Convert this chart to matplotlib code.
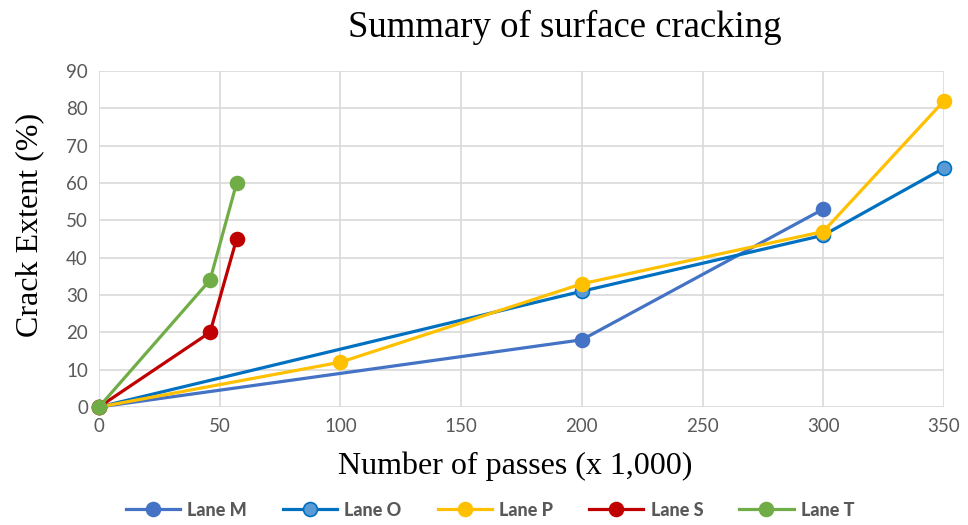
import matplotlib.pyplot as plt

# Data (passes in thousands, crack extent in %)
lane_m_x = [0, 200, 300]
lane_m_y = [0, 18, 53]
lane_o_x = [0, 200, 300, 350]
lane_o_y = [0, 31, 46, 64]
lane_p_x = [0, 100, 200, 300, 350]
lane_p_y = [0, 12, 33, 47, 82]
lane_s_x = [0, 46, 57]
lane_s_y = [0, 20, 45]
lane_t_x = [0, 46, 57]
lane_t_y = [0, 34, 60]

x_ticks = [0, 50, 100, 150, 200, 250, 300, 350]
y_ticks = [0, 10, 20, 30, 40, 50, 60, 70, 80, 90]

fig = plt.figure(figsize=(9.68, 5.25), dpi=100)
ax = fig.add_axes([99 / 968, 1 - 407 / 525, (944 - 99) / 968, (407 - 71) / 525])

series = [
    (lane_m_x, lane_m_y, 'Lane M', '#4472C4', '#4472C4'),
    (lane_o_x, lane_o_y, 'Lane O', '#0070C0', '#5B9BD5'),
    (lane_p_x, lane_p_y, 'Lane P', '#FFC000', '#FFC000'),
    (lane_s_x, lane_s_y, 'Lane S', '#C00000', '#C00000'),
    (lane_t_x, lane_t_y, 'Lane T', '#70AD47', '#70AD47'),
]
for xs, ys, label, color, face in series:
    ax.plot(xs, ys, color=color, linewidth=2.3, marker='o', markersize=10,
            markerfacecolor=face, markeredgecolor=color, markeredgewidth=1.2,
            label=label, clip_on=False, zorder=3)

ax.set_xlim(0, 350)
ax.set_ylim(0, 90)
ax.set_xticks(x_ticks)
ax.set_yticks(y_ticks)
ax.grid(True, color='#D9D9D9', linewidth=1.2)
ax.set_axisbelow(True)
for s in ax.spines.values():
    s.set_visible(False)
ax.tick_params(length=0, labelsize=13.5, labelcolor='#595959', pad=8)
for lbl in ax.get_xticklabels() + ax.get_yticklabels():
    lbl.set_family('Lato')

fig.text(565 / 968, 1 - 27 / 525, 'Summary of surface cracking', ha='center', va='center',
         family='Liberation Serif', fontsize=26.5)
fig.text(515 / 968, 1 - 466 / 525, 'Number of passes (x 1,000)', ha='center', va='center',
         family='Liberation Serif', fontsize=23)
fig.text(30 / 968, 1 - 225 / 525, 'Crack Extent (%)', ha='center', va='center', rotation=90,
         family='Liberation Serif', fontsize=23)

leg = fig.legend(loc='center', bbox_to_anchor=(490 / 968, 1 - 510 / 525), ncol=5, frameon=False,
                 prop={'family': 'Lato', 'weight': 'black', 'size': 13}, handlelength=3,
                 columnspacing=2.0, handletextpad=0.4)
for t in leg.get_texts():
    t.set_color('#595959')

fig.savefig('out.png', dpi=100)
